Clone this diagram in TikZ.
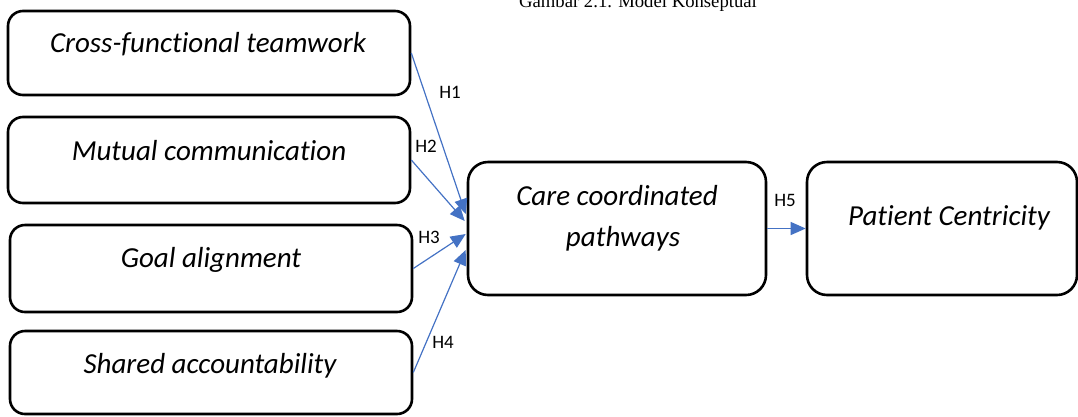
\documentclass[tikz,border=0pt]{standalone}
\usepackage{fontspec}
\setmainfont{Carlito}[Ligatures={NoCommon}]
\newfontfamily\captionserif{Liberation Serif}
\usetikzlibrary{arrows.meta,calc}
\definecolor{linkblue}{HTML}{4472C4}

\begin{document}
\begin{tikzpicture}[x=1pt,y=-1pt,
  box/.style={draw=black, line width=2.6pt, fill=white, inner sep=0pt},
  smallbox/.style={box, rounded corners=15pt, minimum width=402pt},
  bigbox/.style={box, rounded corners=20pt, minimum height=133pt},
  boxtext/.style={inner sep=0pt, anchor=base, font=\fontsize{29}{35}\selectfont\itshape},
  hlabel/.style={inner sep=0pt, font=\fontsize{19}{23}\selectfont},
  conn/.style={draw=linkblue, line width=1.2pt, -{Triangle[length=15pt, width=13pt]}},
  captext/.style={inner sep=0pt, anchor=base, font=\captionserif\fontsize{18.7}{22}\selectfont}]

  \useasboundingbox (0,0) rectangle (1078,416);
  \clip (0,0) rectangle (1078,416);

  % figure caption (partly above the page edge)
  \node[captext] (caption) at (638,7.5) {Gambar 2.1. Model Konseptual};

  % antecedent constructs
  \node[smallbox, minimum height=84pt] (b1) at (209,53) {};
  \node[smallbox, minimum height=86pt] (b2) at (209,160) {};
  \node[smallbox, minimum height=87pt] (b3) at (211,268.5) {};
  \node[smallbox, minimum height=83pt] (b4) at (211,372.5) {};

  % mediator and outcome
  \node[bigbox, minimum width=298pt] (b5) at (617,228.5) {};
  \node[bigbox, minimum width=270pt] (b6) at (942,228.5) {};

  % construct names
  \node[boxtext] (t1) at (208,52) {Cross-functional teamwork};
  \node[boxtext] (t2) at (209,160) {Mutual communication};
  \node[boxtext] (t3) at (211,267) {Goal alignment};
  \node[boxtext] (t4) at (210,373) {Shared accountability};
  \node[boxtext] (t5a) at (617,205) {Care coordinated};
  \node[boxtext] (t5b) at (623,246) {pathways};
  \node[boxtext] (t6) at (949,225) {Patient Centricity};

  % hypothesised paths
  \draw[conn] (b1.east) -- ($(b5.west)+(-1,-14.5)$);
  \draw[conn] (b2.east) -- ($(b5.west)+(-2,-7.5)$);
  \draw[conn] (b3.east) -- ($(b5.west)+(-1,5.5)$);
  \draw[conn] (b4.east) -- ($(b5.west)+(-1,21.5)$);
  \draw[conn] (b5.east) -- (b6.west);

  % path labels
  \node[hlabel] (h1) at (450,92) {H1};
  \node[hlabel] (h2) at (426,146) {H2};
  \node[hlabel] (h3) at (429,237) {H3};
  \node[hlabel] (h4) at (443,342) {H4};
  \node[hlabel] (h5) at (785,200) {H5};
\end{tikzpicture}
\end{document}
